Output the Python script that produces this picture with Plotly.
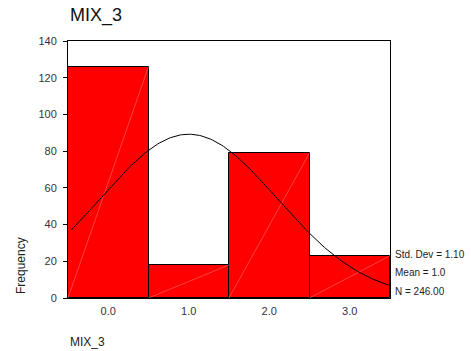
import numpy as np
import plotly.graph_objects as go

# Histogram of MIX_3
categories = [0.0, 1.0, 2.0, 3.0]
tick_labels = ["0.0", "1.0", "2.0", "3.0"]
counts = [126, 18, 79, 23]
y_ticks = [0, 20, 40, 60, 80, 100, 120, 140]

std_dev = 1.10
mean = 1.0
n_total = 246.00
bin_width = 1.0

FONT = "Liberation Sans, Arial, sans-serif"

fig = go.Figure()

fig.add_trace(go.Bar(
    x=categories, y=counts, width=bin_width,
    marker=dict(color="#FF0000", line=dict(color="#000000", width=1)),
    hoverinfo="x+y", showlegend=False,
))

# faint corner-to-corner hatch line across each bar
for c, v in zip(categories, counts):
    fig.add_trace(go.Scatter(
        x=[c - bin_width / 2, c + bin_width / 2], y=[0, v],
        mode="lines", line=dict(color="rgba(255,190,190,0.7)", width=0.5),
        hoverinfo="skip", showlegend=False,
    ))

# fitted normal curve scaled to the counts
xs = np.linspace(-0.46, 3.5, 200)
ys = n_total * bin_width / (std_dev * np.sqrt(2 * np.pi)) * np.exp(-0.5 * ((xs - mean) / std_dev) ** 2)
fig.add_trace(go.Scatter(
    x=xs, y=ys, mode="lines", line=dict(color="#000000", width=1),
    hoverinfo="skip", showlegend=False,
))

fig.update_layout(
    width=471, height=351,
    margin=dict(l=68, r=81, t=41, b=53),
    paper_bgcolor="white", plot_bgcolor="white",
    font=dict(family=FONT, color="#333333", size=11),
    bargap=0,
    xaxis=dict(
        range=[-0.5, 3.5], tickvals=categories, ticktext=tick_labels,
        showgrid=False, zeroline=False, showline=True, linecolor="#000000",
        linewidth=1, mirror=True, ticks="", ticklabelstandoff=3,
        tickfont=dict(size=11, color="#333333"),
    ),
    yaxis=dict(
        range=[0, 140], tickvals=y_ticks, showgrid=False, zeroline=False,
        showline=True, linecolor="#000000", linewidth=1, mirror=True,
        ticks="outside", ticklen=4, tickcolor="#000000", ticklabelstandoff=4,
        tickfont=dict(size=11, color="#333333"),
    ),
    annotations=[
        dict(text="MIX_3", xref="paper", yref="paper", x=0, y=1, xanchor="left",
             yanchor="bottom", yshift=13, showarrow=False,
             font=dict(size=18, color="#111111", family=FONT)),
        dict(text="MIX_3", xref="paper", yref="paper", x=0, y=0, xanchor="left",
             yanchor="middle", yshift=-44, showarrow=False,
             font=dict(size=12, color="#222222", family=FONT)),
        dict(text="Frequency", xref="paper", yref="paper", x=0, y=0, xanchor="center",
             yanchor="middle", xshift=-47, yshift=32, textangle=-90, showarrow=False,
             font=dict(size=12, color="#222222", family=FONT)),
        dict(text=f"Std. Dev = {std_dev:.2f}", xref="paper", yref="paper", x=1, y=0,
             xanchor="left", yanchor="middle", xshift=3, yshift=44, showarrow=False,
             font=dict(size=10, color="#222222", family=FONT)),
        dict(text=f"Mean = {mean:.1f}", xref="paper", yref="paper", x=1, y=0,
             xanchor="left", yanchor="middle", xshift=3, yshift=26, showarrow=False,
             font=dict(size=10, color="#222222", family=FONT)),
        dict(text=f"N = {n_total:.2f}", xref="paper", yref="paper", x=1, y=0,
             xanchor="left", yanchor="middle", xshift=3, yshift=7, showarrow=False,
             font=dict(size=10, color="#222222", family=FONT)),
    ],
)

fig.write_html("out.html")
